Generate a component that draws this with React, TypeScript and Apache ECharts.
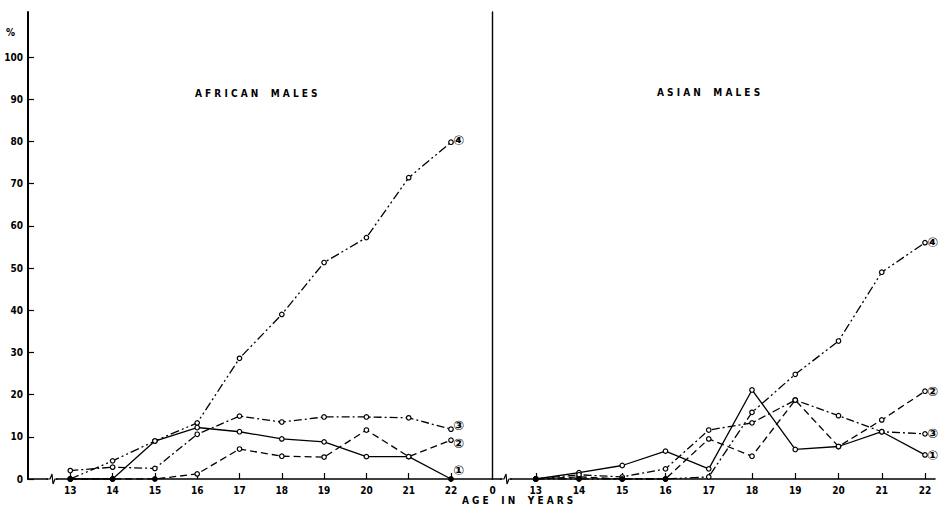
import React, { useEffect, useRef } from "react";
import * as echarts from "echarts";

const ages = [13, 14, 15, 16, 17, 18, 19, 20, 21, 22];
const yTicks = [0, 10, 20, 30, 40, 50, 60, 70, 80, 90, 100];
const xTickValues = [12, 13, 14, 15, 16, 17, 18, 19, 20, 21, 22];

const africanS1 = [0, 0, 9, 12.2, 11.2, 9.5, 8.8, 5.3, 5.3, 0];
const africanS2 = [0, 0, 0, 1.2, 7.1, 5.4, 5.2, 11.6, 5.3, 9.2];
const africanS3 = [2, 2.8, 2.5, 10.6, 14.9, 13.5, 14.7, 14.7, 14.5, 11.8];
const africanS4 = [0, 4.3, 9, 13.3, 28.6, 39, 51.3, 57.2, 71.4, 79.8];

const asianS1 = [0, 1.5, 3.2, 6.6, 2.4, 21.1, 7, 7.7, 11.2, 5.7];
const asianS2 = [0, 0.5, 0, 0, 9.5, 5.4, 18.7, 7.7, 14, 20.8];
const asianS3 = [0, 1, 0.5, 2.4, 11.6, 13.3, 18.7, 15, 11.2, 10.7];
const asianS4 = [0, 0, 0, 0, 0.5, 15.8, 24.8, 32.7, 49, 56];

const seriesLabels = ["①", "②", "③", "④"];

const FONT = "DejaVu Sans Condensed";

const dashStyles: any[] = ["solid", [7, 4], [8, 3, 2, 3], [9, 3, 2, 3, 2, 3]];

function makeSeries(values: number[], idx: number, axis: number, labelOffset: number[]) {
  return {
    type: "line",
    xAxisIndex: axis,
    yAxisIndex: axis,
    data: values.map((v, i) => ({
      value: [ages[i], v],
      itemStyle: { color: v === 0 ? "#000" : "#fff" },
    })),
    symbol: "circle",
    symbolSize: 4.5,
    itemStyle: { color: "#fff", borderColor: "#000", borderWidth: 1.2 },
    lineStyle: { color: "#000", width: 1.3, type: dashStyles[idx] },
    endLabel: {
      show: true,
      formatter: seriesLabels[idx],
      color: "#000",
      fontSize: 13,
      fontWeight: "bold",
      fontFamily: "DejaVu Sans",
      distance: 2,
      offset: labelOffset,
    },
    emphasis: { disabled: true },
    z: 3,
  };
}

export default function App() {
  const ref = useRef<HTMLDivElement>(null);
  useEffect(() => {
    if (!ref.current) return;
    const chart = echarts.init(ref.current, null, { renderer: "svg" });
    const axisLabel = {
      color: "#000",
      fontFamily: FONT,
      fontWeight: "bold" as const,
      fontSize: 10,
    };
    const xAxisCommon = (max: number, zeroLabel: string) => ({
      type: "value",
      min: 12,
      max,
      splitLine: { show: false },
      axisLine: { show: true, onZero: false, lineStyle: { color: "#000", width: 1.6 } },
      axisTick: {
        show: true,
        inside: true,
        length: 6,
        customValues: xTickValues.slice(1),
        lineStyle: { color: "#000", width: 1.2 },
      },
      axisLabel: {
        ...axisLabel,
        margin: 6,
        customValues: zeroLabel ? xTickValues : xTickValues.slice(1),
        formatter: (v: number) => (v === 12 ? zeroLabel : String(v)),
      },
    });
    const option: any = {
      animation: false,
      backgroundColor: "#fff",
      grid: [
        { left: 28, top: 12, width: 464, height: 467 },
        { left: 492.5, top: 12, width: 442.5, height: 467 },
      ],
      xAxis: [
        { ...xAxisCommon(12 + 464 / 42.3, ""), gridIndex: 0 },
        { ...xAxisCommon(12 + 442.5 / 43.25, "0"), gridIndex: 1 },
      ],
      yAxis: [
        {
          type: "value",
          gridIndex: 0,
          min: 0,
          max: 467 / 4.22,
          splitLine: { show: false },
          axisLine: { show: true, lineStyle: { color: "#000", width: 2 } },
          axisTick: {
            show: true,
            inside: true,
            length: 6,
            customValues: yTicks,
            lineStyle: { color: "#000", width: 1.2 },
          },
          axisLabel: { ...axisLabel, margin: 5, customValues: yTicks },
        },
        {
          type: "value",
          gridIndex: 1,
          min: 0,
          max: 467 / 4.22,
          splitLine: { show: false },
          axisLine: { show: true, lineStyle: { color: "#000", width: 1.4 } },
          axisTick: { show: false },
          axisLabel: { show: false },
        },
      ],
      graphic: [
        {
          type: "text",
          left: 6,
          top: 27,
          style: { text: "%", fontSize: 10, fontWeight: "bold", fontFamily: FONT, fill: "#000" },
        },
        {
          type: "text",
          left: 195,
          top: 88,
          style: {
            text: "A F R I C A N    M A L E S",
            fontSize: 10,
            fontWeight: "bold",
            fontFamily: FONT,
            fill: "#000",
          },
        },
        {
          type: "text",
          left: 657,
          top: 87,
          style: {
            text: "A S I A N    M A L E S",
            fontSize: 10,
            fontWeight: "bold",
            fontFamily: FONT,
            fill: "#000",
          },
        },
        {
          type: "text",
          left: 462,
          top: 495,
          style: {
            text: "A G E    I N    Y E A R S",
            fontSize: 10,
            fontWeight: "bold",
            fontFamily: FONT,
            fill: "#000",
          },
        },
        {
          type: "rect",
          shape: { x: 48, y: 476, width: 8, height: 6 },
          style: { fill: "#fff" },
          z: 10,
        },
        {
          type: "polyline",
          shape: { points: [[46, 479], [50, 479], [52, 474], [53, 484], [55, 479], [58, 479]] },
          style: { stroke: "#000", lineWidth: 1.2, fill: null },
          z: 11,
        },
        {
          type: "rect",
          shape: { x: 502, y: 476, width: 8, height: 6 },
          style: { fill: "#fff" },
          z: 10,
        },
        {
          type: "polyline",
          shape: { points: [[500, 479], [504, 479], [506, 474], [507, 484], [509, 479], [512, 479]] },
          style: { stroke: "#000", lineWidth: 1.2, fill: null },
          z: 11,
        },
      ],
      series: [
        makeSeries(africanS1, 0, 0, [0, -9]),
        makeSeries(africanS2, 1, 0, [0, 3]),
        makeSeries(africanS3, 2, 0, [0, -4]),
        makeSeries(africanS4, 3, 0, [0, -2]),
        makeSeries(asianS1, 0, 1, [0, 1]),
        makeSeries(asianS2, 1, 1, [0, 0]),
        makeSeries(asianS3, 2, 1, [0, 0]),
        makeSeries(asianS4, 3, 1, [0, 0]),
      ],
    };
    chart.setOption(option);
    return () => chart.dispose();
  }, []);
  return (
    <div
      ref={ref}
      style={{ position: "fixed", left: 0, top: 0, width: 939, height: 508, background: "#fff" }}
    />
  );
}
